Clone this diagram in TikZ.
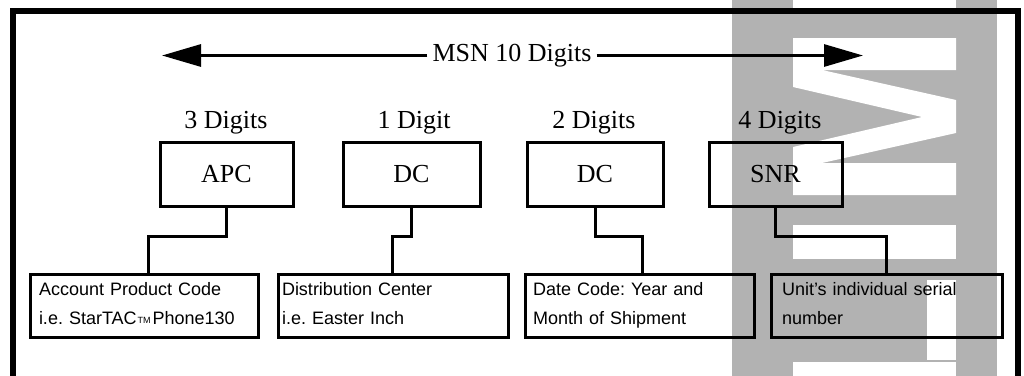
\documentclass[tikz,border=0pt]{standalone}
\usepackage{fontspec}
\setmainfont{Liberation Serif}
\setsansfont{Liberation Sans}
\usetikzlibrary{arrows.meta}
\frenchspacing
\tikzset{
  wm/.style={fill=black!30},
  lab/.style={font=\fontsize{26}{26}\selectfont, inner sep=0},
  codebox/.style={draw, line width=3, minimum height=64, inner sep=0, font=\fontsize{26}{26}\selectfont},
  descbox/.style={draw, line width=3, minimum height=63, align=left, inner ysep=0, font=\sffamily\fontsize{18}{29}\selectfont},
  conn/.style={line width=3},
  msnarrow/.style={line width=3, -{Triangle[length=39pt,width=22pt]}},
}
\begin{document}
\begin{tikzpicture}[x=1pt,y=-1pt]
\useasboundingbox (0,0) rectangle (1024,375);
\clip (0,0) rectangle (1024,375);
% watermark
\fill[wm] (732,0) rectangle (997,380);
\fill[white] (793,0) rectangle (956,11);
\fill[white] (793,38) -- (956,38) -- (956,70) -- (822,70) -- (956,100) -- (956,133) -- (822,163) -- (956,163) -- (956,195) -- (793,195) -- (793,147) -- (922,117) -- (793,87) -- cycle;
\fill[white] (793,225) rectangle (956,259);
\fill[white] (927,280) rectangle (956,360);
\fill[white] (793,362) rectangle (956,380);
% frame
\draw[line width=6, line join=miter] (13,400) -- (13,11) -- (1017.5,11) -- (1017.5,400);
% top arrow
\coordinate (tipL) at (162,55.5);
\coordinate (tipR) at (863,55.5);
\node[lab, inner xsep=5, anchor=base] (msn) at (512,61.7) {MSN 10 Digits};
\draw[msnarrow] (msn.west |- tipL) -- (tipL);
\draw[msnarrow] (msn.east |- tipR) -- (tipR);
% digit labels
\node[lab, anchor=base] (l1) at (226,128) {3 Digits};
\node[lab, anchor=base] (l2) at (414,128) {1 Digit};
\node[lab, anchor=base] (l3) at (594,128) {2 Digits};
\node[lab, anchor=base] (l4) at (780,128) {4 Digits};
% code boxes
\node[codebox, minimum width=133] (apc) at (226.5,174) {APC};
\node[codebox, minimum width=137] (dca) at (411.5,174) {DC};
\node[codebox, minimum width=136] (dcb) at (595,174) {DC};
\node[codebox, minimum width=133] (snr) at (775.5,174) {SNR};
% description boxes
\node[descbox, text width=210, inner xsep=9] (b1) at (144,305.5) {Account Product Code\\i.e. StarTAC\kern1pt\raisebox{1.5pt}{\fontsize{9}{9}\selectfont TM}\kern2pt Phone130\vphantom{p}};
\node[descbox, text width=222, inner xsep=4] (b2) at (393,305.5) {Distribution Center\\i.e. Easter Inch\vphantom{p}};
\node[descbox, text width=213, inner xsep=8] (b3) at (639.5,305.5) {Date Code: Year and\\Month of Shipment};
\node[descbox, text width=209, inner xsep=11] (b4) at (886.5,305.5) {Unit's individual serial\\number\vphantom{p}};
% connectors
\coordinate (k1) at (148,236);
\coordinate (k2) at (392,236);
\coordinate (k3) at (642,236);
\coordinate (k4) at (886,236);
\draw[conn] (apc.south) |- (k1) -- (k1 |- b1.north);
\draw[conn] (dca.south) |- (k2) -- (k2 |- b2.north);
\draw[conn] (dcb.south) |- (k3) -- (k3 |- b3.north);
\draw[conn] (snr.south) |- (k4) -- (k4 |- b4.north);
\end{tikzpicture}
\end{document}
